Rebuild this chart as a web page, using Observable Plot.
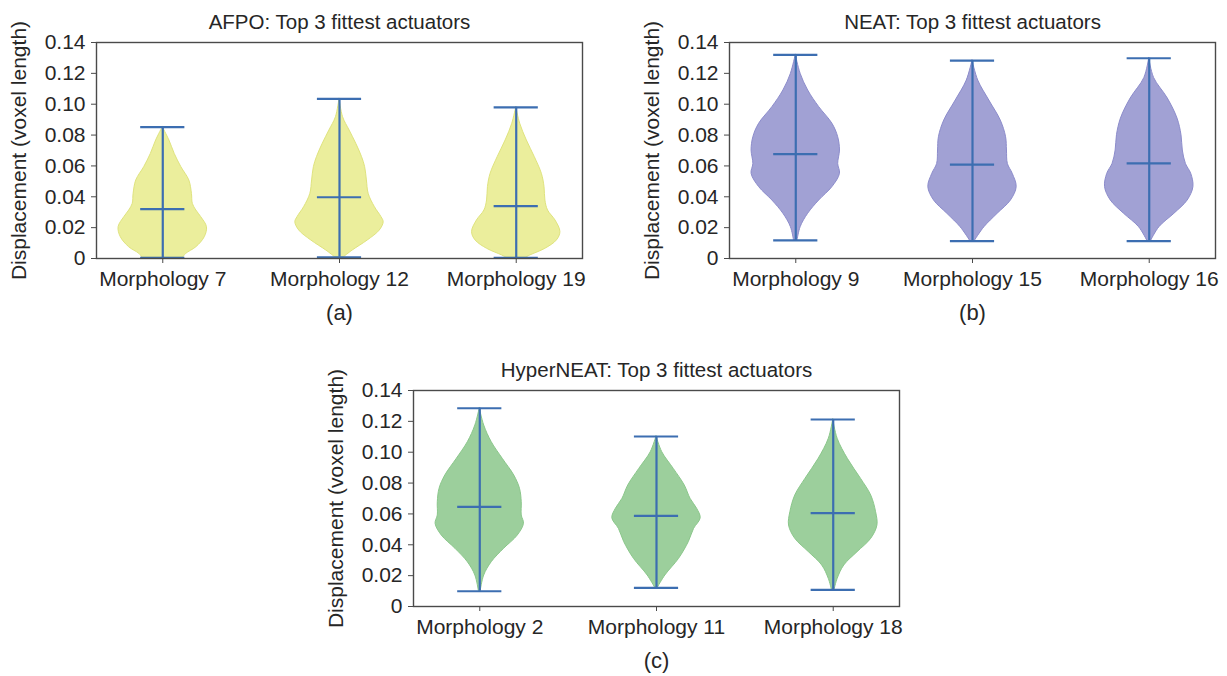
<!DOCTYPE html>
<html><head><meta charset="utf-8">
<script src="https://cdn.jsdelivr.net/npm/d3@7"></script>
<script src="https://cdn.jsdelivr.net/npm/@observablehq/plot@0.6"></script>
<style>
html,body{margin:0;padding:0;background:#fff}
body{width:1227px;height:676px;overflow:hidden;position:relative;font-family:"Liberation Sans",Arial,sans-serif}
.panel{position:absolute;width:592px}
.panel svg{max-width:none !important}
</style></head><body>
<div id="pa" class="panel" style="left:0px;top:0px"></div>
<div id="pb" class="panel" style="left:633px;top:0px"></div>
<div id="pc" class="panel" style="left:317px;top:348px"></div>
<script>
// ---- shared axis values ----
const yTicks = [0, 0.02, 0.04, 0.06, 0.08, 0.10, 0.12, 0.14];
const yLabel = "Displacement (voxel length)";

// ---- (a) AFPO ----
const afpoTitle = "AFPO: Top 3 fittest actuators";
const afpoLabels = ["Morphology 7", "Morphology 12", "Morphology 19"];
const afpoMin = [0.0005, 0.0008, 0.0005];
const afpoMax = [0.0851, 0.1035, 0.0980];
const afpoMean = [0.0320, 0.0397, 0.0339];
const afpoM7Y  = [0.0851, 0.0765, 0.0678, 0.0592, 0.0506, 0.0419, 0.0354, 0.0311, 0.0268, 0.0203, 0.0138, 0.0073, 0.0030, 0.0005];
const afpoM7W  = [0, 0.15, 0.27, 0.42, 0.60, 0.66, 0.68, 0.76, 0.87, 1.00, 0.95, 0.76, 0.53, 0.46];
const afpoM12Y = [0.1035, 0.0916, 0.0829, 0.0743, 0.0657, 0.0592, 0.0506, 0.0419, 0.0333, 0.0268, 0.0235, 0.0181, 0.0117, 0.0052, 0.0008];
const afpoM12W = [0, 0.08, 0.23, 0.38, 0.51, 0.58, 0.62, 0.66, 0.80, 0.95, 1.00, 0.91, 0.64, 0.30, 0.10];
const afpoM19Y = [0.0980, 0.0873, 0.0765, 0.0657, 0.0549, 0.0463, 0.0376, 0.0311, 0.0246, 0.0171, 0.0117, 0.0063, 0.0020, 0.0005];
const afpoM19W = [0, 0.09, 0.24, 0.42, 0.58, 0.64, 0.66, 0.72, 0.89, 1.00, 0.92, 0.66, 0.32, 0.22];

// ---- (b) NEAT ----
const neatTitle = "NEAT: Top 3 fittest actuators";
const neatLabels = ["Morphology 9", "Morphology 15", "Morphology 16"];
const neatMin = [0.0117, 0.0113, 0.0113];
const neatMax = [0.1320, 0.1283, 0.1298];
const neatMean = [0.0676, 0.0609, 0.0616];
const neatM9Y  = [0.1320, 0.1197, 0.1089, 0.0981, 0.0873, 0.0786, 0.0700, 0.0613, 0.0549, 0.0463, 0.0376, 0.0290, 0.0203, 0.0117];
const neatM9W  = [0, 0.11, 0.28, 0.53, 0.83, 0.96, 1.00, 0.96, 1.00, 0.83, 0.53, 0.28, 0.11, 0.04];
const neatM15Y = [0.1283, 0.1153, 0.1024, 0.0894, 0.0786, 0.0700, 0.0613, 0.0549, 0.0463, 0.0376, 0.0290, 0.0203, 0.0113];
const neatM15W = [0, 0.13, 0.38, 0.64, 0.76, 0.78, 0.80, 0.91, 1.00, 0.87, 0.57, 0.27, 0.05];
const neatM16Y = [0.1298, 0.1170, 0.1037, 0.0907, 0.0799, 0.0700, 0.0613, 0.0549, 0.0463, 0.0376, 0.0290, 0.0203, 0.0113];
const neatM16W = [0, 0.11, 0.42, 0.64, 0.73, 0.76, 0.83, 0.95, 1.00, 0.87, 0.57, 0.23, 0.04];

// ---- (c) HyperNEAT ----
const hyperTitle = "HyperNEAT: Top 3 fittest actuators";
const hyperLabels = ["Morphology 2", "Morphology 11", "Morphology 18"];
const hyperMin = [0.0099, 0.0121, 0.0108];
const hyperMax = [0.1285, 0.1102, 0.1212];
const hyperMean = [0.0646, 0.0588, 0.0605];
const hyperM2Y  = [0.1285, 0.1173, 0.1065, 0.0957, 0.0849, 0.0763, 0.0676, 0.0590, 0.0536, 0.0460, 0.0374, 0.0287, 0.0201, 0.0099];
const hyperM2W  = [0, 0.10, 0.27, 0.52, 0.78, 0.91, 0.95, 0.95, 1.00, 0.86, 0.55, 0.27, 0.10, 0.02];
const hyperM11Y = [0.1102, 0.1000, 0.0892, 0.0784, 0.0698, 0.0633, 0.0572, 0.0503, 0.0417, 0.0309, 0.0201, 0.0121];
const hyperM11W = [0, 0.13, 0.39, 0.64, 0.77, 0.92, 1.00, 0.85, 0.73, 0.51, 0.20, 0.03];
const hyperM18Y = [0.1212, 0.1087, 0.0957, 0.0827, 0.0719, 0.0611, 0.0525, 0.0439, 0.0352, 0.0266, 0.0179, 0.0108];
const hyperM18W = [0, 0.10, 0.33, 0.63, 0.86, 0.97, 1.00, 0.86, 0.55, 0.25, 0.10, 0.03];

const lineBlue = "#3c6eb1";
const font = "'Liberation Sans', Arial, Helvetica, sans-serif";

function panel(cfg) {
  const halfWidth = 0.25, capHalf = 0.125;
  const pos = cfg.labels.map((_, i) => i + 1);
  const rows = [];
  cfg.profY.forEach((ys, i) => ys.forEach((v, j) => {
    rows.push({id: i, v, x1: pos[i] - halfWidth * cfg.profW[i][j], x2: pos[i] + halfWidth * cfg.profW[i][j]});
  }));
  const caps = [];
  pos.forEach((p, i) => {
    caps.push({p, y: cfg.mins[i]});
    caps.push({p, y: cfg.maxs[i]});
    caps.push({p, y: cfg.means[i]});
  });
  return Plot.plot({
    width: 592, height: 328,
    marginLeft: 96, marginTop: 42, marginRight: 10, marginBottom: 70,
    style: {fontFamily: font, fontSize: "21px", color: "#262626", background: "transparent", maxWidth: "none"},
    x: {domain: [0.625, 3.375]},
    y: {domain: [0, 0.14]},
    marks: [
      Plot.areaX(rows, {y: "v", x1: "x1", x2: "x2", z: "id", fill: cfg.fill, stroke: cfg.edge, strokeWidth: 1, curve: "catmull-rom"}),
      Plot.ruleX(pos, {x: d => d, y1: (d, i) => cfg.mins[i], y2: (d, i) => cfg.maxs[i], stroke: lineBlue, strokeWidth: 2.2}),
      Plot.ruleY(caps, {y: "y", x1: d => d.p - capHalf, x2: d => d.p + capHalf, stroke: lineBlue, strokeWidth: 2.2}),
      Plot.frame({stroke: "#4a4a4a", strokeWidth: 1.4}),
      Plot.axisY({ticks: yTicks, tickFormat: d => d === 0 ? "0" : d3.format(".2f")(d), tickSize: 5, tickPadding: 6, label: null, stroke: "#4a4a4a"}),
      Plot.axisX({ticks: pos, tickFormat: d => cfg.labels[d - 1], tickSize: 5, tickPadding: 8, label: null, stroke: "#4a4a4a"}),
      Plot.text([cfg.title], {frameAnchor: "top", dy: -20, textAnchor: "middle", lineAnchor: "middle", fontSize: 20.5}),
      Plot.text([yLabel], {frameAnchor: "left", dx: -77, rotate: -90, textAnchor: "middle", lineAnchor: "middle", fontSize: 21}),
      Plot.text([cfg.caption], {frameAnchor: "bottom", dy: 54, textAnchor: "middle", lineAnchor: "middle", fontSize: 22})
    ]
  });
}

document.getElementById("pa").append(panel({
  title: afpoTitle, caption: "(a)", labels: afpoLabels, mins: afpoMin, maxs: afpoMax, means: afpoMean,
  profY: [afpoM7Y, afpoM12Y, afpoM19Y], profW: [afpoM7W, afpoM12W, afpoM19W],
  fill: "#ebee9c", edge: "#dfe37e"
}));
document.getElementById("pb").append(panel({
  title: neatTitle, caption: "(b)", labels: neatLabels, mins: neatMin, maxs: neatMax, means: neatMean,
  profY: [neatM9Y, neatM15Y, neatM16Y], profW: [neatM9W, neatM15W, neatM16W],
  fill: "#a1a1d4", edge: "#8c8ccb"
}));
document.getElementById("pc").append(panel({
  title: hyperTitle, caption: "(c)", labels: hyperLabels, mins: hyperMin, maxs: hyperMax, means: hyperMean,
  profY: [hyperM2Y, hyperM11Y, hyperM18Y], profW: [hyperM2W, hyperM11W, hyperM18W],
  fill: "#9ccf9c", edge: "#8bc78b"
}));
</script>
</body></html>
